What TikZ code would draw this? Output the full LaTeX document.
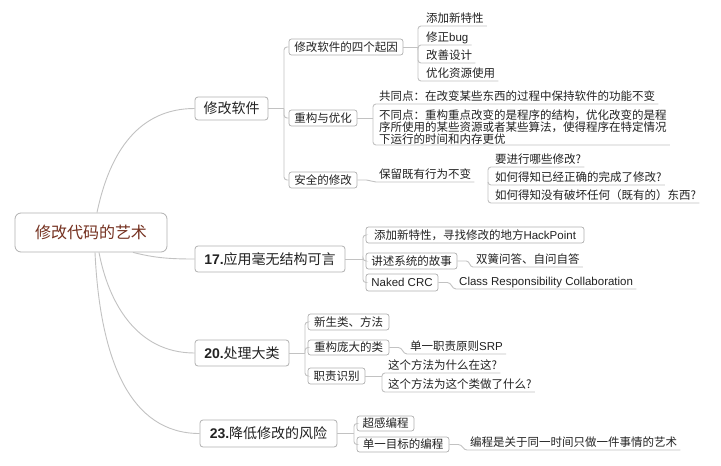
\documentclass[tikz,border=0pt]{standalone}
\usepackage{fontspec}
\setmainfont{Noto Sans CJK SC}
\newfontfamily\lat{Liberation Sans}
\newcommand\myfs[1]{\fontsize{#1}{#1}\selectfont}
\definecolor{conn}{HTML}{C2C2C2}
\definecolor{bord}{HTML}{B0B0B0}
\definecolor{txt}{HTML}{222222}
\definecolor{rootred}{HTML}{74301F}
\begin{document}
\begin{tikzpicture}[x=1pt,y=-1pt,
  cn/.style={draw=conn, line width=0.9pt},
  el/.style={cn, rounded corners=3pt},
  rootbox/.style={draw=bord, line width=0.8pt, fill=white, rounded corners=6pt, inner sep=0pt,
     minimum width=152pt, minimum height=39pt, font=\myfs{16}, text=rootred},
  mbox/.style={draw=bord, line width=0.8pt, fill=white, rounded corners=3pt, inner sep=0pt,
     minimum height=25pt, font=\myfs{14}, text=txt},
  sbox/.style={draw=bord, line width=0.7pt, fill=white, rounded corners=2.5pt, inner sep=0pt,
     minimum height=16pt, font=\myfs{11.5}, text=txt},
  leaf/.style={anchor=south west, inner xsep=3pt, inner ysep=0.8pt, font=\myfs{11.5}, text=txt},
  lf/.style={leaf, text height=9pt, text depth=2.5pt}
]
\useasboundingbox (0,0) rectangle (721,466);
\fill[white] (0,0) rectangle (721,466);

% root
\node[rootbox] (root) at (91,232.5) {修改代码的艺术};

% main branches
\node[mbox, minimum width=73pt, minimum height=23pt] (b1) at (231.5,108.5) {修改软件};
\node[mbox, minimum width=150pt, minimum height=26pt] (b2) at (270,259) {{\lat\bfseries 17.}应用毫无结构可言};
\node[mbox, minimum width=94pt, minimum height=26pt] (b3) at (242,353) {{\lat\bfseries 20.}处理大类};
\node[mbox, minimum width=137pt, minimum height=27pt] (b4) at (268.5,433.5) {{\lat\bfseries 23.}降低修改的风险};

\draw[cn] ([xshift=6pt]root.north) .. controls (110,150) and (140,108.5) .. (b1.west);
\draw[cn] ([xshift=42pt]root.south) .. controls (155,258) and (170,259) .. (b2.west);
\draw[cn] ([xshift=8pt]root.south) .. controls (108,300) and (135,353) .. (b3.west);
\draw[cn] ([xshift=4pt]root.south) .. controls (100,360) and (130,433.5) .. (b4.west);

% ---- branch 1 children
\node[sbox, minimum width=114pt] (s11) at (346,47) {修改软件的四个起因};
\node[sbox, minimum width=68pt] (s12) at (323,118) {重构与优化};
\node[sbox, minimum width=68pt] (s13) at (323,180) {安全的修改};
\coordinate (j1) at (284,108.5);
\draw[cn] (b1.east) -- (j1);
\foreach \c in {s11,s12,s13} \draw[el] (j1) |- (\c.west);

% four reasons
\node[lf] (a1) at (423,26) {添加新特性};
\node[lf] (a2) at (423,45) {修正{\lat bug}};
\node[lf] (a3) at (423,63) {改善设计};
\node[lf] (a4) at (423,81) {优化资源使用};
\coordinate (ja) at (418,47);
\draw[cn] (s11.east) -- (ja);
\foreach \c in {a1,a2,a3,a4} \draw[el] (ja) |- (\c.south east);

% refactor vs optimize
\node[lf] (c1) at (376,104) {共同点：在改变某些东西的过程中保持软件的功能不变};
\node[leaf, align=left, font=\fontsize{11.5}{10.8}\selectfont] (c2) at (376,145)
  {不同点：重构重点改变的是程序的结构，优化改变的是程\\序所使用的某些资源或者某些算法，使得程序在特定情况\\下运行的时间和内存更优};
\coordinate (jc) at (373,118);
\draw[cn] (s12.east) -- (jc);
\foreach \c in {c1,c2} \draw[el] (jc) |- (\c.south east);

% safe change
\node[lf] (d1) at (376,182) {保留既有行为不变};
\draw[cn] (s13.east) -- ++(9,0) to[out=0,in=180] (d1.south west) -- (d1.south east);
\coordinate (jd) at (488,182);
\node[lf] (e1) at (492,167) {要进行哪些修改?};
\node[lf] (e2) at (492,185) {如何得知已经正确的完成了修改?};
\node[lf] (e3) at (492,203) {如何得知没有破坏任何（既有的）东西?};
\foreach \c in {e1,e2,e3} \draw[el] (jd) |- (\c.south east);

% ---- branch 2 children
\node[sbox, minimum width=218pt] (s21) at (475,235) {添加新特性，寻找修改的地方{\lat HackPoint}};
\node[sbox, minimum width=91pt] (s22) at (411.5,261) {讲述系统的故事};
\node[sbox, minimum width=72pt, minimum height=17pt] (s23) at (402,282.5) {\lat Naked CRC};
\coordinate (j2) at (363,259);
\draw[cn] (b2.east) -- (j2);
\foreach \c in {s21,s22,s23} \draw[el] (j2) |- (\c.west);

\node[lf] (f1) at (473,267) {双簧问答、自问自答};
\draw[cn] (s22.east) -- ++(9,0) to[out=0,in=180] (f1.south west) -- (f1.south east);
\node[lf, font=\lat\myfs{11.5}] (f2) at (456,289) {Class Responsibility Collaboration};
\draw[cn] (s23.east) -- ++(9,0) to[out=0,in=180] (f2.south west) -- (f2.south east);

% ---- branch 3 children
\node[sbox, minimum width=81pt] (s31) at (348.5,322) {新生类、方法};
\node[sbox, minimum width=81pt, minimum height=15pt] (s32) at (348.5,347.5) {重构庞大的类};
\node[sbox, minimum width=57pt] (s33) at (336.5,376) {职责识别};
\coordinate (j3) at (305,353);
\draw[cn] (b3.east) -- (j3);
\foreach \c in {s31,s32,s33} \draw[el] (j3) |- (\c.west);

\node[lf] (g1) at (407,354) {单一职责原则{\lat SRP}};
\draw[cn] (s32.east) -- ++(9,0) to[out=0,in=180] (g1.south west) -- (g1.south east);
\coordinate (jg) at (382,376);
\node[lf] (h1) at (385,373) {这个方法为什么在这?};
\node[lf] (h2) at (385,392) {这个方法为这个类做了什么?};
\draw[cn] (s33.east) -- (jg);
\foreach \c in {h1,h2} \draw[el] (jg) |- (\c.south east);

% ---- branch 4 children
\node[sbox, minimum width=57pt, minimum height=15pt] (s41) at (385.5,423.5) {超感编程};
\node[sbox, minimum width=92pt, minimum height=15pt] (s42) at (403,444.5) {单一目标的编程};
\coordinate (j4) at (354,433.5);
\draw[cn] (b4.east) -- (j4);
\foreach \c in {s41,s42} \draw[el] (j4) |- (\c.west);

\node[lf] (k1) at (467,450) {编程是关于同一时间只做一件事情的艺术};
\draw[cn] (s42.east) -- ++(9,0) to[out=0,in=180] (k1.south west) -- (k1.south east);
\end{tikzpicture}
\end{document}
